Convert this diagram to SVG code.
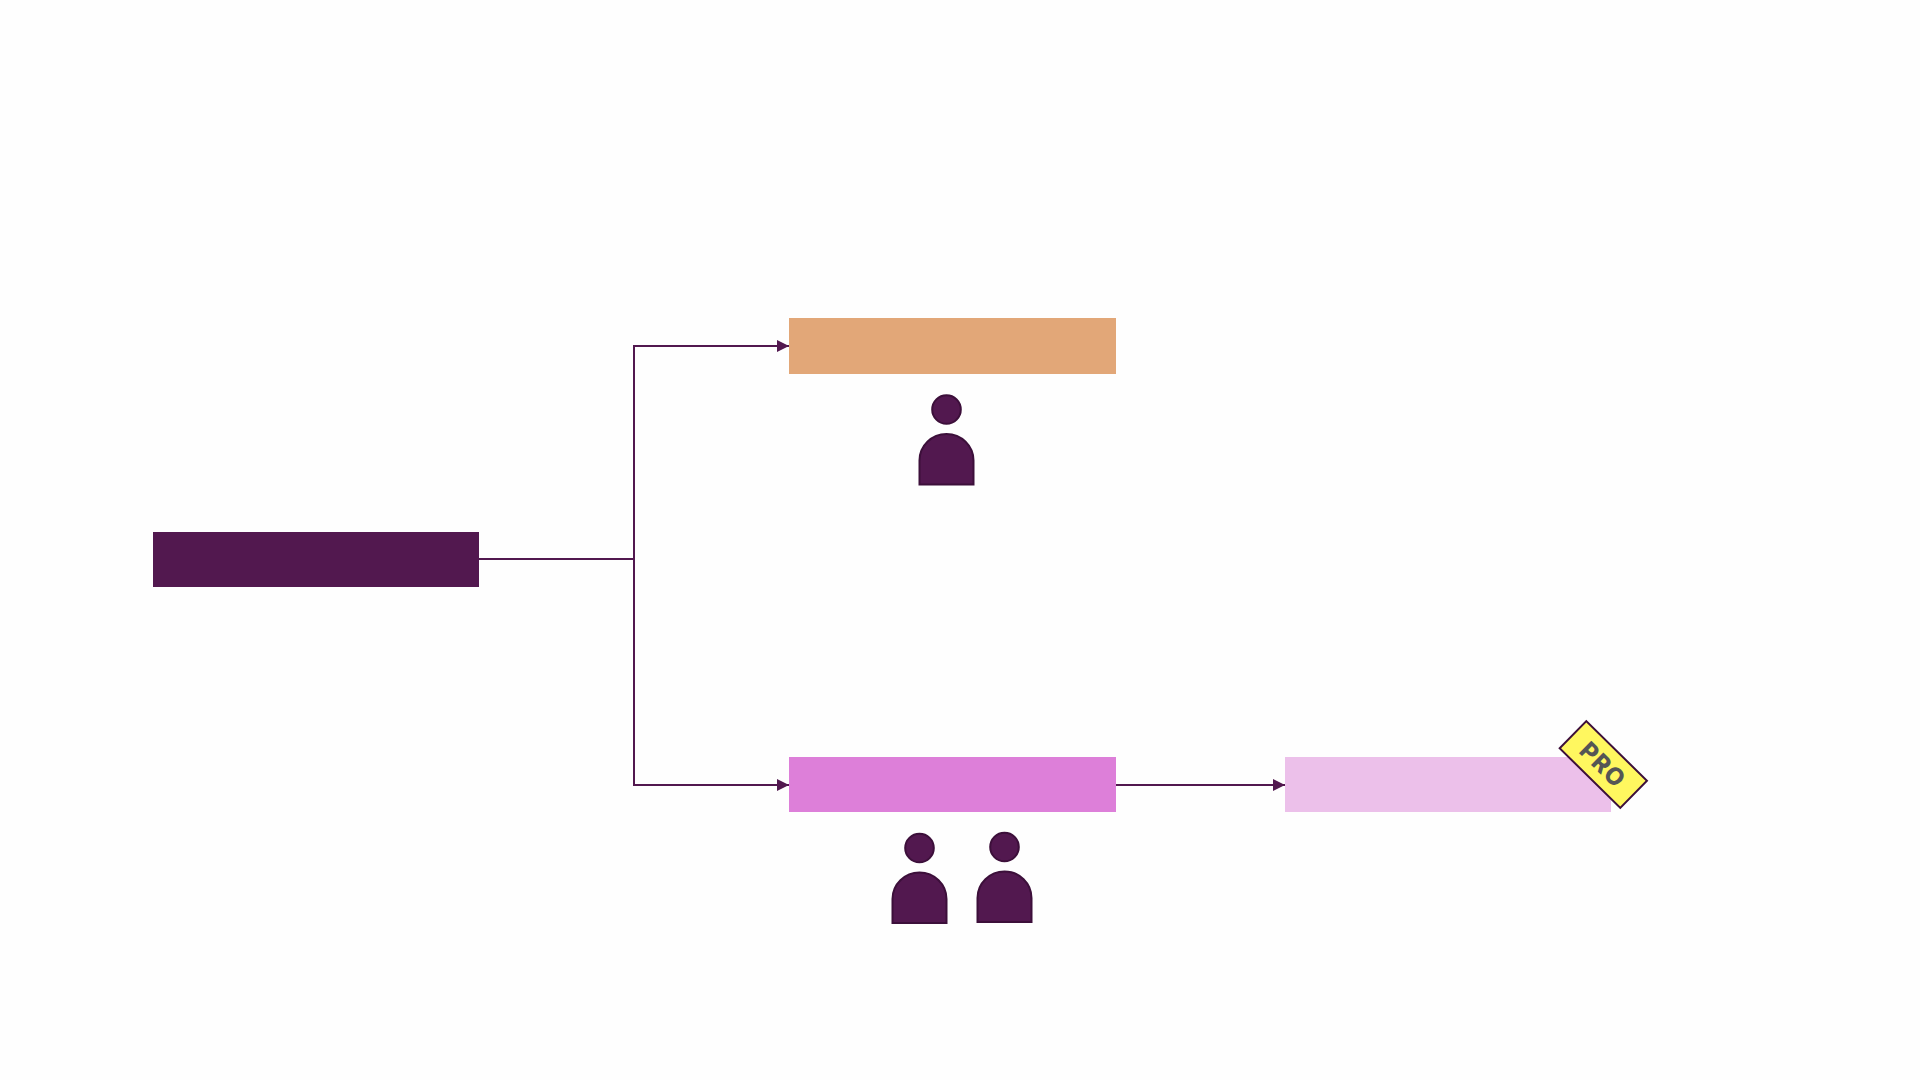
<svg xmlns="http://www.w3.org/2000/svg" width="1920" height="1080" viewBox="0 0 1920 1080">
<style>
.wire{fill:none;stroke:#52184f;stroke-width:2}
.person{fill:#52184f;stroke:#3c0f3a;stroke-width:2}
.pro{font-family:"Inter","Liberation Sans",sans-serif;font-weight:800;font-size:24px;fill:#555;text-anchor:middle;letter-spacing:1px}
</style>
<defs>
<marker id="arrow" markerUnits="userSpaceOnUse" markerWidth="12" markerHeight="12" refX="12" refY="6" orient="auto"><path d="M0 0L12 6L0 12Z" fill="#52184f"/></marker>
<g id="person-shape" class="person"><circle cx="0" cy="0" r="14.300"/><path d="M-27 75V51A27 26.500 0 0 1 27 51V75Z"/></g>
</defs>
<rect width="1920" height="1080" fill="#fefefe"/>
<g id="connectors">
<path class="wire" d="M479 559H634"/>
<path class="wire" d="M634 559V346H789" marker-end="url(#arrow)"/>
<path class="wire" d="M634 559V785H789" marker-end="url(#arrow)"/>
<path class="wire" d="M1116 785H1285" marker-end="url(#arrow)"/>
</g>
<g id="node-source"><rect x="153" y="532" width="326" height="55" fill="#52184f"/></g>
<g id="node-orange"><rect x="789" y="318" width="327" height="56" fill="#e2a778"/></g>
<g id="node-pink"><rect x="789" y="757" width="327" height="55" fill="#dd7fd9"/></g>
<g id="node-light"><rect x="1285" y="757" width="326" height="55" fill="#ecc0ea"/></g>
<g id="person-1"><use href="#person-shape" x="946.500" y="409.500"/></g>
<g id="person-2"><use href="#person-shape" x="919.500" y="848"/></g>
<g id="person-3"><use href="#person-shape" x="1004.500" y="847"/></g>
<g id="badge-pro" transform="translate(1603.300 764.500) rotate(44.500)">
<rect x="-42.500" y="-19" width="85" height="38" fill="#fff75f" stroke="#3c0f3a" stroke-width="2"/>
<text class="pro" x="0" y="9">PRO</text>
</g>
</svg>
